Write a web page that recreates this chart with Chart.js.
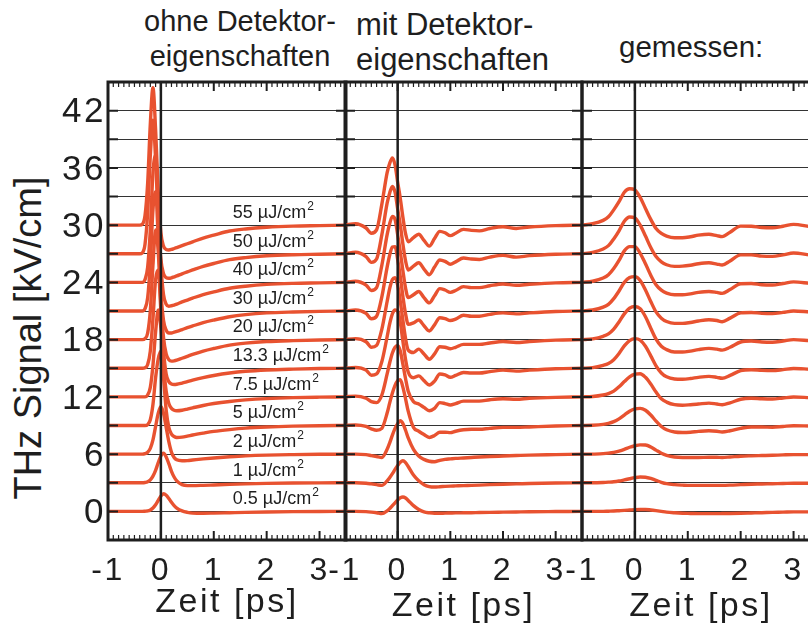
<!DOCTYPE html>
<html lang="de">
<head>
<meta charset="UTF-8">
<title>THz Signal</title>
<script src="https://cdn.jsdelivr.net/npm/chart.js@4.4.0/dist/chart.umd.min.js"></script>
<style>
  html, body { margin: 0; padding: 0; overflow: hidden; background: #fff; }
  body { position: relative; width: 808px; height: 627px; font-family: 'Liberation Sans', Arial, sans-serif; color: #1e1e1e; }
  canvas { position: absolute; left: 0; top: 0; }
  .kopf { position: absolute; white-space: nowrap; }
  #yTitel { position: absolute; left: -172px; top: 316px; width: 400px; height: 44px; line-height: 44px;
            font-size: 38px; text-align: center; transform: rotate(-90deg); white-space: nowrap; }
</style>
</head>
<body>
<div class="kopf" style="left:140px; top:4px; width:200px; text-align:center; font-size:29px; line-height:35px;">ohne Detektor-<br>eigenschaften</div>
<div class="kopf" style="left:356px; top:7px; font-size:31px; line-height:35px;">mit Detektor-<br>eigenschaften</div>
<div class="kopf" style="left:619px; top:30px; font-size:29.5px; line-height:34px;">gemessen:</div>
<div id="yTitel">THz Signal [kV/cm]</div>

<canvas id="ohne" width="830" height="627"></canvas>
<canvas id="mit" width="830" height="627"></canvas>
<canvas id="gemessen" width="830" height="627"></canvas>

<script>
// Anregungsfluenzen, von unten nach oben; jede Kurve um 3 kV/cm versetzt
const FLUENZEN = ['0.5', '1', '2', '5', '7.5', '13.3', '20', '30', '40', '50', '55'];
const VERSATZ = 3;

// Simulation ohne Detektoreigenschaften
const ohneZeit = [-1, -0.6, -0.4, -0.35, -0.3, -0.25, -0.2, -0.15, -0.1, -0.05, 0, 0.05, 0.1, 0.15,
    0.2, 0.25, 0.3, 0.4, 0.5, 0.6, 0.8, 1.0, 1.3, 1.6, 2.0, 2.5, 3.0, 3.5];
const ohneWerte = [
    [0, 0, 0, 0, 0.02, 0.05, 0.15, 0.35, 0.7, 1.15, 1.6, 1.85, 1.7, 1.35, 0.95, 0.6, 0.35, 0.05, -0.1, -0.18, -0.2, -0.18, -0.14, -0.1, -0.06, -0.03, -0.01, 0],
    [0, 0, 0, 0, 0.03, 0.1, 0.3, 0.7, 1.3, 2.1, 2.8, 3.1, 2.7, 2.0, 1.2, 0.6, 0.2, -0.2, -0.3, -0.3, -0.27, -0.23, -0.17, -0.12, -0.07, -0.03, -0.01, 0],
    [0, 0, 0, 0, 0.05, 0.2, 0.6, 1.5, 2.9, 4.3, 5.0, 4.3, 2.8, 1.3, 0.2, -0.35, -0.6, -0.7, -0.68, -0.62, -0.5, -0.4, -0.28, -0.18, -0.1, -0.05, -0.02, 0],
    [0, 0, 0, 0, 0, 0.1, 0.6, 2.2, 5.0, 7.0, 7.8, 5.0, 1.6, -0.2, -0.9, -1.15, -1.25, -1.22, -1.12, -1.0, -0.8, -0.62, -0.43, -0.28, -0.16, -0.07, -0.02, 0],
    [0, 0, 0, 0, 0, 0.2, 1.0, 3.3, 6.8, 9.1, 7.2, 3.3, 0.6, -0.7, -1.2, -1.4, -1.45, -1.4, -1.28, -1.15, -0.9, -0.7, -0.48, -0.32, -0.18, -0.08, -0.03, 0],
    [0, 0, 0, 0, 0.05, 0.4, 1.8, 5.2, 9.3, 10.3, 6.0, 1.8, -0.6, -1.4, -1.65, -1.7, -1.68, -1.55, -1.4, -1.25, -0.98, -0.76, -0.5, -0.32, -0.18, -0.09, -0.03, 0],
    [0, 0, 0, 0, 0.1, 0.7, 3.0, 7.8, 11.5, 9.2, 3.8, 0.2, -1.5, -2.1, -2.25, -2.22, -2.15, -1.95, -1.75, -1.55, -1.2, -0.93, -0.58, -0.37, -0.2, -0.1, -0.04, 0],
    [0, 0, 0, 0, 0.25, 1.4, 5.0, 10.6, 12.5, 7.6, 2.0, -1.0, -2.0, -2.3, -2.3, -2.22, -2.14, -1.95, -1.75, -1.57, -1.22, -0.95, -0.6, -0.38, -0.2, -0.1, -0.04, 0],
    [0, 0, 0, 0, 0.3, 1.6, 5.5, 11.5, 13.3, 7.5, 1.8, -1.3, -2.3, -2.5, -2.45, -2.38, -2.28, -2.05, -1.85, -1.65, -1.28, -1.0, -0.62, -0.4, -0.21, -0.1, -0.05, 0],
    [0, 0, 0, 0.1, 1.0, 4.3, 10.3, 14.0, 9.9, 3.6, -0.6, -2.1, -2.5, -2.57, -2.52, -2.42, -2.32, -2.1, -1.9, -1.7, -1.32, -1.02, -0.62, -0.4, -0.21, -0.1, -0.05, 0],
    [0, 0, 0, 0.1, 1.0, 4.4, 10.6, 14.4, 10.0, 3.5, -0.8, -2.2, -2.55, -2.6, -2.55, -2.45, -2.35, -2.15, -1.95, -1.75, -1.35, -1.05, -0.62, -0.4, -0.22, -0.1, -0.05, 0]
];

// Simulation mit Detektoreigenschaften
const mitZeit = [-1.0, -0.8, -0.6, -0.5, -0.4, -0.3, -0.2, -0.15, -0.1, -0.05, 0, 0.05, 0.1, 0.15, 0.2,
    0.3, 0.4, 0.5, 0.6, 0.7, 0.8, 0.9, 1.0, 1.1, 1.25, 1.4, 1.55, 1.75, 2.0, 2.25, 2.5, 3.0, 3.5];
const mitWerte = [
    [0, 0, -0.03, -0.08, -0.15, -0.24, 0.05, 0.3, 0.6, 0.9, 1.2, 1.42, 1.5, 1.4, 1.15, 0.6, 0.2, -0.05, -0.15, -0.2, -0.2, -0.18, -0.17, -0.16, -0.15, -0.14, -0.12, -0.1, -0.08, -0.06, -0.04, -0.02, 0],
    [0, 0, -0.05, -0.12, -0.2, -0.28, 0.2, 0.55, 0.95, 1.4, 1.8, 2.15, 2.3, 2.1, 1.7, 0.8, 0.2, -0.2, -0.4, -0.45, -0.42, -0.38, -0.35, -0.33, -0.3, -0.28, -0.25, -0.2, -0.15, -0.12, -0.08, -0.03, 0],
    [0, 0, -0.05, -0.15, -0.25, -0.35, 0.5, 1.2, 2.0, 2.7, 3.2, 3.5, 3.2, 2.5, 1.7, 0.5, -0.2, -0.55, -0.75, -0.8, -0.65, -0.55, -0.5, -0.45, -0.4, -0.35, -0.3, -0.25, -0.2, -0.15, -0.1, -0.05, 0],
    [0, 0.05, -0.1, -0.35, -0.5, -0.3, 1.3, 2.4, 3.4, 4.2, 4.7, 4.8, 4.0, 2.8, 1.5, -0.2, -0.6, -0.95, -1.25, -1.05, -0.7, -0.7, -0.75, -0.6, -0.45, -0.4, -0.4, -0.3, -0.2, -0.2, -0.15, -0.05, 0],
    [0, 0.08, -0.15, -0.5, -0.6, 0.2, 2.4, 3.6, 4.6, 5.2, 5.4, 4.8, 3.4, 1.9, 0.6, -0.5, -0.75, -1.1, -1.45, -1.2, -0.6, -0.7, -0.85, -0.7, -0.45, -0.45, -0.45, -0.3, -0.2, -0.25, -0.15, -0.05, 0],
    [0, 0.08, -0.2, -0.73, -0.6, 0.7, 3.3, 4.7, 5.7, 6.1, 6.0, 4.8, 2.8, 0.9, -0.4, -1.0, -0.8, -1.3, -1.75, -1.35, -0.6, -0.7, -0.95, -0.75, -0.45, -0.5, -0.5, -0.35, -0.2, -0.3, -0.2, -0.05, 0],
    [0, 0.1, -0.22, -0.8, -0.6, 1.1, 4.0, 5.4, 6.3, 6.5, 5.7, 4.0, 2.0, 0.1, -1.1, -1.35, -1.0, -1.5, -2.05, -1.5, -0.75, -0.8, -0.95, -0.8, -0.5, -0.5, -0.5, -0.35, -0.2, -0.3, -0.2, -0.05, 0],
    [0, 0.1, -0.25, -0.82, -0.55, 1.5, 4.6, 5.9, 6.7, 6.75, 5.4, 3.6, 1.5, -0.3, -1.4, -1.25, -0.95, -1.55, -2.1, -1.45, -0.7, -0.8, -1.0, -0.85, -0.45, -0.55, -0.55, -0.35, -0.2, -0.3, -0.2, -0.05, 0],
    [0, 0.12, -0.28, -0.85, -0.55, 1.8, 5.0, 6.2, 6.9, 6.6, 5.0, 3.2, 1.2, -0.6, -1.6, -1.3, -0.95, -1.6, -2.15, -1.4, -0.65, -0.8, -1.05, -0.85, -0.45, -0.55, -0.55, -0.35, -0.17, -0.3, -0.2, -0.05, 0],
    [0, 0.15, -0.3, -0.9, -0.55, 2.0, 5.3, 6.4, 7.05, 6.45, 4.7, 3.0, 1.0, -0.75, -1.7, -1.3, -0.95, -1.6, -2.2, -1.4, -0.65, -0.8, -1.1, -0.85, -0.45, -0.55, -0.6, -0.35, -0.17, -0.35, -0.2, -0.05, 0],
    [0, 0.15, -0.3, -0.85, -0.5, 2.2, 5.5, 6.5, 7.05, 6.3, 4.5, 2.8, 0.8, -0.9, -1.75, -1.3, -0.95, -1.6, -2.2, -1.4, -0.65, -0.8, -1.1, -0.85, -0.45, -0.55, -0.6, -0.35, -0.17, -0.35, -0.2, -0.05, 0]
];

// Messung
const gemessenZeit = [-1.0, -0.8, -0.6, -0.5, -0.4, -0.3, -0.2, -0.1, 0, 0.1, 0.2, 0.3, 0.4, 0.5, 0.6,
    0.75, 0.9, 1.05, 1.2, 1.4, 1.55, 1.65, 1.8, 2.0, 2.2, 2.4, 2.6, 2.8, 3.0, 3.3];
const gemessenWerte = [
    [0, 0, 0, 0.02, 0.04, 0.07, 0.1, 0.14, 0.18, 0.2, 0.2, 0.15, 0.08, 0.0, -0.08, -0.15, -0.2, -0.22, -0.24, -0.24, -0.24, -0.23, -0.22, -0.2, -0.17, -0.14, -0.1, -0.08, -0.05, -0.05],
    [0, 0, 0.03, 0.06, 0.1, 0.18, 0.3, 0.42, 0.53, 0.6, 0.58, 0.45, 0.25, 0.05, -0.1, -0.2, -0.25, -0.28, -0.28, -0.28, -0.27, -0.27, -0.25, -0.2, -0.15, -0.13, -0.1, -0.08, -0.05, -0.05],
    [0, 0, 0.05, 0.1, 0.18, 0.32, 0.5, 0.72, 0.88, 0.97, 0.95, 0.75, 0.42, 0.1, -0.12, -0.3, -0.35, -0.35, -0.35, -0.33, -0.33, -0.35, -0.3, -0.22, -0.18, -0.15, -0.12, -0.08, -0.05, -0.05],
    [0, 0.03, 0.12, 0.22, 0.4, 0.7, 1.1, 1.5, 1.75, 1.8, 1.6, 1.1, 0.45, -0.1, -0.45, -0.68, -0.73, -0.7, -0.62, -0.55, -0.6, -0.68, -0.55, -0.3, -0.15, -0.15, -0.18, -0.1, -0.02, -0.05],
    [0, 0.04, 0.2, 0.35, 0.6, 1.05, 1.6, 2.1, 2.38, 2.43, 2.05, 1.35, 0.5, -0.2, -0.55, -0.82, -0.87, -0.82, -0.75, -0.65, -0.75, -0.82, -0.62, -0.25, -0.15, -0.2, -0.22, -0.12, -0.02, -0.08],
    [0, 0.06, 0.3, 0.5, 0.9, 1.55, 2.35, 2.9, 3.1, 2.95, 2.3, 1.3, 0.25, -0.5, -0.9, -1.12, -1.15, -1.08, -0.95, -0.85, -0.95, -1.05, -0.75, -0.25, -0.15, -0.22, -0.25, -0.15, -0.02, -0.1],
    [0, 0.08, 0.35, 0.6, 1.1, 1.85, 2.7, 3.3, 3.47, 3.25, 2.4, 1.2, 0.05, -0.7, -1.05, -1.3, -1.3, -1.2, -1.05, -0.92, -1.0, -1.1, -0.8, -0.25, -0.15, -0.25, -0.28, -0.15, 0.0, -0.1],
    [0, 0.1, 0.4, 0.7, 1.3, 2.1, 3.0, 3.5, 3.6, 3.2, 2.2, 1.0, -0.1, -0.75, -1.1, -1.3, -1.3, -1.2, -1.05, -0.92, -1.0, -1.12, -0.75, -0.2, -0.15, -0.25, -0.28, -0.15, 0.0, -0.1],
    [0, 0.12, 0.45, 0.8, 1.45, 2.3, 3.3, 3.75, 3.75, 3.05, 1.95, 0.75, -0.25, -0.82, -1.12, -1.3, -1.3, -1.2, -1.05, -0.95, -1.05, -1.15, -0.75, -0.15, -0.12, -0.25, -0.28, -0.12, 0.05, -0.1],
    [0, 0.15, 0.5, 0.85, 1.55, 2.4, 3.4, 3.85, 3.75, 3.0, 1.85, 0.65, -0.3, -0.85, -1.15, -1.32, -1.3, -1.2, -1.05, -0.95, -1.08, -1.18, -0.75, -0.12, -0.12, -0.25, -0.28, -0.12, 0.08, -0.12],
    [0, 0.15, 0.5, 0.87, 1.6, 2.45, 3.45, 3.82, 3.7, 2.9, 1.75, 0.6, -0.35, -0.87, -1.15, -1.32, -1.32, -1.22, -1.05, -0.95, -1.1, -1.2, -0.75, -0.1, -0.12, -0.25, -0.28, -0.12, 0.08, -0.15]
];

const LINIE = 'rgb(232, 82, 48)';
const SCHRIFT = "'Liberation Sans', Arial, sans-serif";
const DUNKEL = '#1e1e1e';

// Achsenbeschriftung etwas gesperrt
const sperrung = {
    id: 'sperrung',
    beforeDraw(chart) { chart.ctx.letterSpacing = '2.5px'; },
    afterDraw(chart) { chart.ctx.letterSpacing = '0px'; }
};

// Rahmen, Nulllinie und nach innen zeigende Teilstriche
const rahmen = {
    id: 'rahmen',
    afterDatasetsDraw(chart) {
        const {ctx, chartArea: a, scales: {x, y}} = chart;
        ctx.save();
        ctx.strokeStyle = DUNKEL;
        ctx.lineCap = 'butt';

        const x0 = x.getPixelForValue(0);
        ctx.lineWidth = 2.5;
        ctx.beginPath();
        ctx.moveTo(x0, a.top);
        ctx.lineTo(x0, a.bottom);
        ctx.stroke();

        for (let i = -10; i <= 35; i++) {
            const px = x.getPixelForValue(i / 10);
            const gross = i % 10 === 0;
            const len = gross ? 9 : 5;
            ctx.lineWidth = gross ? 2 : 1.2;
            ctx.beginPath();
            ctx.moveTo(px, a.top);
            ctx.lineTo(px, a.top + len);
            ctx.moveTo(px, a.bottom);
            ctx.lineTo(px, a.bottom - len);
            ctx.stroke();
        }

        ctx.lineWidth = 2;
        y.ticks.forEach(t => {
            const py = y.getPixelForValue(t.value);
            ctx.beginPath();
            ctx.moveTo(a.left, py);
            ctx.lineTo(a.left + 10, py);
            ctx.moveTo(a.right, py);
            ctx.lineTo(a.right - 10, py);
            ctx.stroke();
        });

        ctx.lineWidth = 3;
        ctx.strokeRect(a.left, a.top, a.right - a.left, a.bottom - a.top);
        ctx.restore();
    }
};

// Fluenzangaben über den Kurven
const fluenzText = {
    id: 'fluenzText',
    afterDatasetsDraw(chart) {
        const {ctx, scales: {x, y}} = chart;
        ctx.save();
        ctx.letterSpacing = '0px';
        ctx.fillStyle = DUNKEL;
        ctx.textBaseline = 'alphabetic';
        FLUENZEN.forEach((f, i) => {
            const px = x.getPixelForValue(1.36);
            const py = y.getPixelForValue(i * VERSATZ + 0.75);
            ctx.font = '18px ' + SCHRIFT;
            const text = f + ' \u00b5J/cm';
            ctx.fillText(text, px, py);
            const w = ctx.measureText(text).width;
            ctx.font = '12px ' + SCHRIFT;
            ctx.fillText('2', px + w + 1, py - 8);
        });
        ctx.restore();
    }
};

function panel(id, zeit, werte, links, rechts, mitAchse, titelAbstand, extra) {
    const datasets = werte.map((reihe, i) => ({
        data: zeit.map((t, j) => ({x: t, y: reihe[j] + i * VERSATZ})),
        borderColor: LINIE,
        borderWidth: 3.4,
        pointRadius: 0,
        fill: false,
        cubicInterpolationMode: 'monotone'
    }));

    const plugins = [sperrung, rahmen];
    if (extra) plugins.push(extra);

    return new Chart(document.getElementById(id), {
        type: 'line',
        data: {datasets},
        options: {
            responsive: false,
            animation: false,
            events: [],
            layout: {padding: {left: mitAchse ? 0 : links, right: 830 - rechts, top: 82, bottom: 0}},
            plugins: {legend: {display: false}, tooltip: {enabled: false}},
            scales: {
                x: {
                    type: 'linear',
                    min: -1,
                    max: 3.5,
                    grid: {display: false, drawTicks: false},
                    border: {display: false},
                    ticks: {
                        stepSize: 1,
                        includeBounds: false,
                        maxRotation: 0,
                        padding: 12,
                        color: DUNKEL,
                        font: {family: SCHRIFT, size: 32}
                    },
                    title: {
                        display: true,
                        text: 'Zeit [ps]',
                        color: DUNKEL,
                        font: {family: SCHRIFT, size: 34},
                        padding: {top: 0, bottom: titelAbstand}
                    },
                    afterFit(scale) { scale.height = 87; }
                },
                y: {
                    min: -3,
                    max: 45,
                    grid: {color: '#333', lineWidth: 1, drawTicks: false},
                    border: {display: false},
                    ticks: {
                        display: mitAchse,
                        autoSkip: false,
                        stepSize: 3,
                        padding: 2,
                        labelOffset: 2,
                        color: DUNKEL,
                        font: {family: SCHRIFT, size: 35},
                        callback: v => (v >= 0 && v <= 42 && v % 6 === 0) ? v : ''
                    },
                    afterFit(scale) { scale.width = mitAchse ? 108 : 0; }
                }
            }
        },
        plugins
    });
}

panel('ohne', ohneZeit, ohneWerte, 108, 346, true, 4, fluenzText);
panel('mit', mitZeit, mitWerte, 345, 582, false, 0, null);
panel('gemessen', gemessenZeit, gemessenWerte, 582, 820, false, 0, null);
</script>
</body>
</html>
